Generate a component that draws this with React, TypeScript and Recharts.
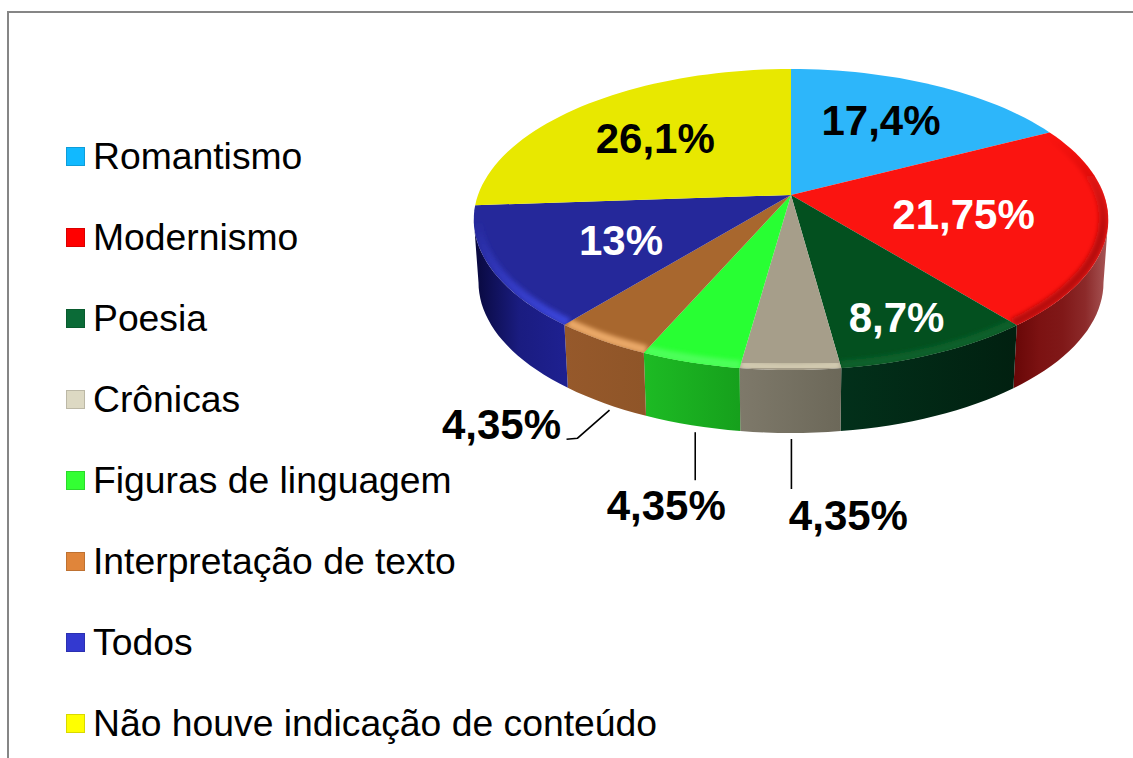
import { PieChart, Pie, Legend } from 'recharts'

const categories = [
  'Romantismo',
  'Modernismo',
  'Poesia',
  'Crônicas',
  'Figuras de linguagem',
  'Interpretação de texto',
  'Todos',
  'Não houve indicação de conteúdo',
]
const values = [17.4, 21.75, 8.7, 4.35, 4.35, 4.35, 13, 26.1]

const topColors = ['#2db6fa', '#fb1410', '#03501f', '#a69e8a', '#28ff33', '#a8672e', '#25289a', '#e8e800']
const legendColors = ['#11b9ff', '#ff0000', '#0b6b37', '#ddd9c3', '#33ff33', '#e0853a', '#3339d0', '#ffff00']
const bevelColors = ['#2db6fa', '#b81010', '#07602a', '#d2cab0', '#4dff5a', '#eaa868', '#3a44d8', '#e8e800']
const labelColors = ['#000', '#fff', '#fff', '#000', '#000', '#000', '#fff', '#000']
const wallStops = [
  ['#1a80b0', '#1a80b0'],
  ['#6a0808', '#7c1212', '#801818', '#8c2a2a', '#a85858'],
  ['#02301a', '#012010'],
  ['#7e796a', '#6c6859'],
  ['#1dbb24', '#16a01c'],
  ['#96592b', '#8f5528'],
  ['#08083c', '#1a1c80', '#1e2090'],
  ['#a0a000', '#a0a000'],
]

// nudges from the projected spot, inner labels then the ones with a leader
const innerShift: Record<number, number[]> = {
  0: [-7, 0],
  1: [-31, -1],
  2: [16, 25],
  6: [20, -1],
  7: [3, 4],
}
const leaders: Record<number, { line: number[][]; text: number[] }> = {
  3: { line: [[1, 6], [1, 56]], text: [58, 83] },
  4: { line: [[5, 7], [5, 55]], text: [-24, 81] },
  5: { line: [[8, 7], [-24, 35], [-35, 36]], text: [-100, 22] },
}

const data = categories.map((name, i) => ({ name, value: values[i], fill: topColors[i] }))

const TILT = 0.468
const PERSP = 0.163
const DEPTH = 63
const FLOOR_SCALE = 0.985
const FRONT_FROM = 99.4
const FRONT_TO = 260.6

// t = degrees clockwise from 12 o'clock
function project(cx: number, cy: number, R: number, t: number, r = 1) {
  const a = (t * Math.PI) / 180
  const u = Math.sin(a) * r
  const v = Math.cos(a) * r
  const d = 1 + PERSP * v
  return { x: cx + (R * u) / d, y: cy - (R * TILT * v) / d }
}

function arc(cx: number, cy: number, R: number, t0: number, t1: number, r = 1) {
  const pts = []
  const n = Math.max(2, Math.ceil(Math.abs(t1 - t0) / 2))
  for (let i = 0; i <= n; i++) {
    pts.push(project(cx, cy, R, t0 + ((t1 - t0) * i) / n, r))
  }
  return pts
}

const toPath = (pts: { x: number; y: number }[]) =>
  pts.map((p, i) => `${i ? 'L' : 'M'}${p.x.toFixed(1)} ${p.y.toFixed(1)}`).join(' ')

function Slice(props: any) {
  const { cx, cy, outerRadius, startAngle, endAngle, name } = props
  const i = categories.indexOf(name)
  const t0 = 90 - startAngle
  const t1 = 90 - endAngle
  const rim = arc(cx, cy, outerRadius, t0, t1)
  const topPath = `M${cx} ${cy} ${toPath(rim).replace('M', 'L')} Z`

  const f0 = Math.max(t0, FRONT_FROM)
  const f1 = Math.min(t1, FRONT_TO)
  const hasFront = f1 > f0
  // the red slice keeps its shaded edge round the whole right side
  const edgeAll = i === 1
  let wallPath = ''
  let bevelPath = ''
  let x0 = 0
  let x1 = 0
  if (hasFront) {
    const edge = arc(cx, cy, outerRadius, f0, f1)
    const low = edge
      .map((p) => ({ x: cx + (p.x - cx) * FLOOR_SCALE, y: p.y + DEPTH }))
      .reverse()
    wallPath = `${toPath(edge)} ${toPath(low).replace('M', 'L')} Z`
    bevelPath = toPath(arc(cx, cy, outerRadius, edgeAll ? t0 : f0, f1, 0.985))
    x0 = Math.min(...edge.map((p) => p.x))
    x1 = Math.max(...edge.map((p) => p.x))
  }
  const stops = wallStops[i]

  return (
    <g>
      <defs>
        <linearGradient id={`wall-${i}`} gradientUnits="userSpaceOnUse" x1={x0} x2={x1} y1={0} y2={0}>
          {stops.map((c, k) => (
            <stop key={k} offset={k / (stops.length - 1)} stopColor={c} />
          ))}
        </linearGradient>
        <linearGradient
          id={`bevel-${i}`}
          gradientUnits="userSpaceOnUse"
          x1={0}
          x2={0}
          y1={cy + (edgeAll ? -60 : 25)}
          y2={cy + (edgeAll ? 40 : 125)}
        >
          <stop offset={0} stopColor={bevelColors[i]} stopOpacity={0} />
          <stop offset={1} stopColor={bevelColors[i]} stopOpacity={1} />
        </linearGradient>
        <clipPath id={`top-${i}`}>
          <path d={topPath} />
        </clipPath>
        <filter id={`soft-${i}`} x="-20%" y="-50%" width="140%" height="200%">
          <feGaussianBlur stdDeviation="2" />
        </filter>
      </defs>
      {hasFront && <path d={wallPath} fill={`url(#wall-${i})`} />}
      <path d={topPath} fill={topColors[i]} />
      {hasFront && (
        <g clipPath={`url(#top-${i})`}>
          <path
            d={bevelPath}
            fill="none"
            stroke={`url(#bevel-${i})`}
            strokeWidth={9}
            filter={`url(#soft-${i})`}
          />
        </g>
      )}
    </g>
  )
}

const LABEL_SIZE = 42
const fmt = (v: number) => `${String(v).replace('.', ',')}%`

function SliceLabel(props: any) {
  const { cx, cy, outerRadius, midAngle, name, value } = props
  const i = categories.indexOf(name)
  const t = 90 - midAngle
  const textProps = {
    textAnchor: 'middle' as const,
    fontFamily: '"Liberation Sans", Arial, sans-serif',
    fontWeight: 700,
    fontSize: LABEL_SIZE,
    fill: labelColors[i],
  }
  const leader = leaders[i]
  if (leader) {
    const p = project(cx, cy, outerRadius, t)
    const ax = p.x
    const ay = p.y + DEPTH
    const line = leader.line.map(([dx, dy]) => `${ax + dx},${ay + dy}`).join(' ')
    return (
      <g>
        <polyline points={line} fill="none" stroke="#000" strokeWidth={1.6} />
        <text x={ax + leader.text[0]} y={ay + leader.text[1] + 14} {...textProps}>
          {fmt(value)}
        </text>
      </g>
    )
  }
  const p = project(cx, cy, outerRadius, t, 0.65)
  const [dx, dy] = innerShift[i]
  return (
    <text x={p.x + dx} y={p.y + dy + 15} {...textProps}>
      {fmt(value)}
    </text>
  )
}

function LegendList({ payload }: any) {
  return (
    <div style={{ paddingTop: 116, width: 700 }}>
      {(payload ?? []).map((entry: any) => (
        <div key={entry.value} style={{ display: 'flex', alignItems: 'center', height: 81 }}>
          <span
            style={{
              width: 19,
              height: 19,
              marginLeft: 66,
              marginRight: 8,
              background: legendColors[categories.indexOf(entry.value)],
              boxSizing: 'border-box',
              border: '1px solid rgba(0,0,0,0.15)',
            }}
          />
          <span
            style={{
              fontFamily: '"Liberation Sans", Arial, sans-serif',
              fontSize: 37.3,
              color: '#000',
              whiteSpace: 'nowrap',
            }}
          >
            {entry.value}
          </span>
        </div>
      ))}
    </div>
  )
}

export default function App() {
  return (
    <div
      style={{
        position: 'absolute',
        left: 0,
        top: 0,
        width: 1133,
        height: 758,
        overflow: 'hidden',
        background: '#fff',
      }}
    >
      <div
        style={{
          position: 'absolute',
          left: 7,
          top: 11,
          right: 0,
          bottom: 0,
          borderTop: '2px solid #868686',
          borderLeft: '2px solid #868686',
        }}
      />
      <PieChart width={1133} height={758} margin={{ top: 0, right: 0, bottom: 0, left: 0 }}>
        <Legend
          content={<LegendList />}
          layout="vertical"
          align="left"
          verticalAlign="top"
          itemSorter={null}
          wrapperStyle={{ left: 0, top: 0, width: 0, height: 0, overflow: 'visible' }}
        />
        <Pie
          data={data}
          dataKey="value"
          nameKey="name"
          cx={791}
          cy={195}
          outerRadius={313}
          startAngle={90}
          endAngle={-270}
          paddingAngle={0}
          stroke="none"
          shape={Slice}
          label={SliceLabel}
          labelLine={false}
          isAnimationActive={false}
        />
      </PieChart>
    </div>
  )
}
